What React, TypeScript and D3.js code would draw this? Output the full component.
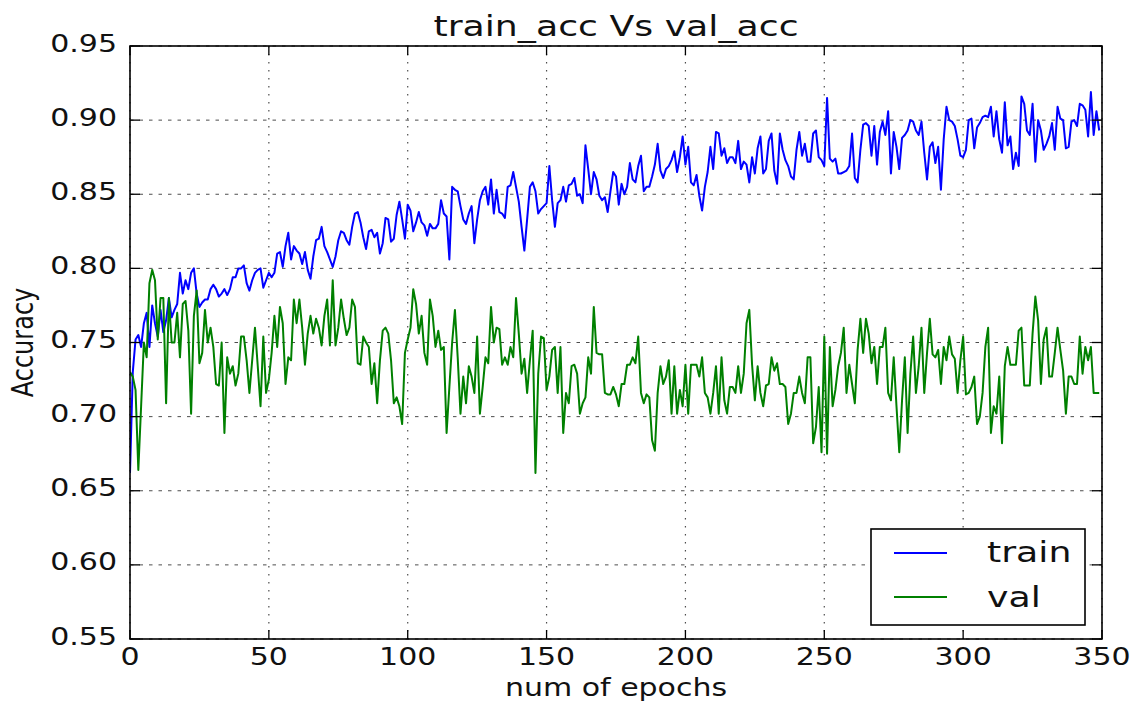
import { useEffect } from "react";
import * as d3 from "d3";

// accuracy per epoch
const trainAcc = [
  0.662, 0.730, 0.752, 0.755, 0.747, 0.763, 0.770, 0.747, 0.775, 0.763,
  0.754, 0.772, 0.757, 0.765, 0.780, 0.767, 0.772, 0.776, 0.797, 0.783,
  0.792, 0.786, 0.797, 0.800, 0.783, 0.774, 0.777, 0.779, 0.779, 0.786,
  0.789, 0.786, 0.781, 0.783, 0.786, 0.782, 0.786, 0.794, 0.794, 0.800,
  0.800, 0.802, 0.790, 0.785, 0.792, 0.797, 0.799, 0.800, 0.787, 0.792,
  0.797, 0.794, 0.797, 0.810, 0.811, 0.801, 0.815, 0.824, 0.806, 0.815,
  0.812, 0.810, 0.803, 0.811, 0.799, 0.793, 0.808, 0.819, 0.820, 0.828,
  0.815, 0.811, 0.806, 0.801, 0.808, 0.819, 0.825, 0.824, 0.819, 0.816,
  0.828, 0.837, 0.838, 0.831, 0.821, 0.813, 0.825, 0.826, 0.821, 0.824,
  0.810, 0.817, 0.834, 0.833, 0.818, 0.820, 0.836, 0.845, 0.833, 0.820,
  0.843, 0.839, 0.825, 0.831, 0.838, 0.831, 0.829, 0.822, 0.830, 0.827,
  0.827, 0.830, 0.846, 0.837, 0.835, 0.806, 0.855, 0.853, 0.852, 0.842,
  0.833, 0.830, 0.837, 0.842, 0.817, 0.833, 0.846, 0.852, 0.855, 0.843,
  0.860, 0.837, 0.853, 0.838, 0.837, 0.834, 0.855, 0.856, 0.865, 0.855,
  0.845, 0.828, 0.812, 0.833, 0.855, 0.858, 0.852, 0.837, 0.840, 0.842,
  0.844, 0.869, 0.846, 0.828, 0.844, 0.846, 0.855, 0.845, 0.856, 0.857,
  0.861, 0.849, 0.850, 0.844, 0.883, 0.867, 0.850, 0.865, 0.860, 0.849,
  0.846, 0.848, 0.838, 0.852, 0.865, 0.862, 0.843, 0.857, 0.850, 0.855,
  0.871, 0.860, 0.858, 0.869, 0.876, 0.852, 0.855, 0.855, 0.862, 0.870,
  0.884, 0.866, 0.861, 0.867, 0.869, 0.873, 0.879, 0.865, 0.875, 0.889,
  0.870, 0.882, 0.858, 0.856, 0.863, 0.849, 0.839, 0.855, 0.865, 0.882,
  0.867, 0.892, 0.891, 0.876, 0.881, 0.871, 0.875, 0.875, 0.871, 0.886,
  0.867, 0.872, 0.870, 0.858, 0.875, 0.864, 0.881, 0.889, 0.864, 0.867,
  0.886, 0.891, 0.866, 0.857, 0.891, 0.880, 0.873, 0.869, 0.862, 0.860,
  0.880, 0.892, 0.876, 0.884, 0.872, 0.872, 0.891, 0.893, 0.875, 0.873,
  0.869, 0.915, 0.874, 0.872, 0.874, 0.864, 0.864, 0.865, 0.866, 0.869,
  0.891, 0.861, 0.858, 0.880, 0.897, 0.898, 0.896, 0.876, 0.896, 0.870,
  0.892, 0.899, 0.890, 0.906, 0.864, 0.892, 0.882, 0.867, 0.888, 0.890,
  0.893, 0.900, 0.899, 0.893, 0.890, 0.899, 0.878, 0.860, 0.882, 0.885,
  0.871, 0.882, 0.853, 0.887, 0.909, 0.900, 0.899, 0.896, 0.887, 0.876,
  0.875, 0.880, 0.900, 0.901, 0.881, 0.895, 0.898, 0.902, 0.903, 0.902,
  0.909, 0.889, 0.906, 0.887, 0.878, 0.912, 0.883, 0.889, 0.867, 0.878,
  0.869, 0.916, 0.911, 0.893, 0.890, 0.911, 0.872, 0.900, 0.893, 0.880,
  0.884, 0.889, 0.898, 0.880, 0.909, 0.901, 0.900, 0.881, 0.882, 0.899,
  0.900, 0.896, 0.911, 0.910, 0.907, 0.889, 0.919, 0.890, 0.906, 0.893,
];

const valAcc = [
  0.730, 0.727, 0.718, 0.664, 0.707, 0.750, 0.740, 0.790, 0.799, 0.792,
  0.752, 0.780, 0.780, 0.709, 0.780, 0.750, 0.750, 0.770, 0.740, 0.776,
  0.778, 0.758, 0.702, 0.768, 0.785, 0.736, 0.743, 0.772, 0.750, 0.760,
  0.747, 0.722, 0.721, 0.750, 0.689, 0.740, 0.729, 0.734, 0.721, 0.729,
  0.754, 0.754, 0.738, 0.716, 0.738, 0.760, 0.734, 0.707, 0.754, 0.716,
  0.725, 0.743, 0.768, 0.747, 0.774, 0.763, 0.722, 0.740, 0.738, 0.779,
  0.763, 0.779, 0.760, 0.735, 0.756, 0.768, 0.756, 0.766, 0.760, 0.748,
  0.768, 0.779, 0.748, 0.792, 0.748, 0.760, 0.779, 0.766, 0.755, 0.760,
  0.779, 0.774, 0.736, 0.735, 0.754, 0.750, 0.747, 0.722, 0.736, 0.709,
  0.738, 0.758, 0.760, 0.756, 0.738, 0.709, 0.713, 0.707, 0.695, 0.743,
  0.752, 0.760, 0.786, 0.776, 0.756, 0.768, 0.743, 0.735, 0.779, 0.768,
  0.747, 0.758, 0.745, 0.747, 0.689, 0.720, 0.750, 0.772, 0.740, 0.702,
  0.727, 0.709, 0.734, 0.727, 0.716, 0.754, 0.702, 0.720, 0.740, 0.736,
  0.774, 0.750, 0.760, 0.759, 0.735, 0.740, 0.735, 0.747, 0.740, 0.780,
  0.756, 0.729, 0.739, 0.716, 0.738, 0.758, 0.662, 0.729, 0.754, 0.753,
  0.718, 0.727, 0.745, 0.747, 0.716, 0.747, 0.689, 0.716, 0.709, 0.734,
  0.735, 0.729, 0.702, 0.709, 0.713, 0.740, 0.729, 0.774, 0.743, 0.742,
  0.742, 0.716, 0.715, 0.715, 0.720, 0.715, 0.707, 0.722, 0.722, 0.735,
  0.735, 0.740, 0.736, 0.754, 0.716, 0.709, 0.715, 0.713, 0.684, 0.677,
  0.716, 0.734, 0.722, 0.727, 0.738, 0.702, 0.734, 0.702, 0.718, 0.707,
  0.735, 0.702, 0.735, 0.735, 0.735, 0.727, 0.740, 0.716, 0.713, 0.702,
  0.716, 0.734, 0.702, 0.740, 0.711, 0.702, 0.720, 0.720, 0.716, 0.734,
  0.716, 0.729, 0.763, 0.772, 0.735, 0.711, 0.734, 0.716, 0.707, 0.721,
  0.722, 0.740, 0.731, 0.736, 0.722, 0.722, 0.720, 0.695, 0.702, 0.716,
  0.716, 0.727, 0.716, 0.709, 0.740, 0.740, 0.682, 0.693, 0.720, 0.676,
  0.754, 0.675, 0.747, 0.707, 0.718, 0.734, 0.743, 0.760, 0.716, 0.735,
  0.722, 0.709, 0.745, 0.766, 0.743, 0.766, 0.756, 0.736, 0.747, 0.722,
  0.747, 0.747, 0.760, 0.716, 0.711, 0.740, 0.707, 0.676, 0.711, 0.740,
  0.689, 0.729, 0.754, 0.716, 0.734, 0.760, 0.716, 0.743, 0.766, 0.742,
  0.740, 0.745, 0.722, 0.747, 0.738, 0.754, 0.742, 0.739, 0.716, 0.738,
  0.754, 0.715, 0.716, 0.720, 0.727, 0.695, 0.700, 0.716, 0.747, 0.760,
  0.689, 0.707, 0.702, 0.727, 0.682, 0.734, 0.747, 0.735, 0.735, 0.735,
  0.758, 0.760, 0.721, 0.721, 0.721, 0.756, 0.781, 0.765, 0.722, 0.752,
  0.760, 0.727, 0.727, 0.743, 0.760, 0.745, 0.731, 0.702, 0.727, 0.727,
  0.722, 0.722, 0.754, 0.729, 0.747, 0.738, 0.747, 0.716, 0.716, 0.716,
];

const xTicks = [0, 50, 100, 150, 200, 250, 300, 350];
const yTicks = [0.55, 0.6, 0.65, 0.7, 0.75, 0.8, 0.85, 0.9, 0.95];
const seriesNames = ["train", "val"];
const seriesColors = ["#0000ff", "#008000"];

const W = 1138;
const H = 704;
const plot = { left: 130, right: 1102, top: 46, bottom: 639 };
// the reference is stretched sideways, so text gets the same stretch
const SX = 1.25;
const FONT = "DejaVu Sans, sans-serif";

function SText(props: { x: number; y: number; size: number; anchor?: string; rotate?: boolean; children: any }) {
  const { x, y, size, anchor = "start", rotate = false, children } = props;
  return (
    <text
      transform={`translate(${x},${y}) scale(${SX},1)${rotate ? " rotate(-90)" : ""}`}
      fontSize={size}
      fontFamily={FONT}
      textAnchor={anchor}
      fill="#111"
    >
      {children}
    </text>
  );
}

export default function App() {
  useEffect(() => {
    document.body.style.margin = "0";
  }, []);

  const x = d3.scaleLinear().domain([0, 350]).range([plot.left, plot.right]);
  const y = d3.scaleLinear().domain([0.55, 0.95]).range([plot.bottom, plot.top]);

  const line = d3
    .line<number>()
    .x((_, i) => x(i))
    .y((d) => y(d));

  const series = [trainAcc, valAcc];

  return (
    <svg width={W} height={H} style={{ display: "block", background: "#fff" }}>
      <defs>
        <clipPath id="plotClip">
          <rect x={plot.left} y={plot.top} width={plot.right - plot.left} height={plot.bottom - plot.top} />
        </clipPath>
      </defs>

      {/* grid */}
      {yTicks.map((t) => (
        <line key={"gy" + t} x1={plot.left} x2={plot.right} y1={y(t)} y2={y(t)}
          stroke="#000" strokeOpacity={0.7} strokeWidth={1} strokeDasharray="3.5,6" />
      ))}
      {xTicks.map((t) => (
        <line key={"gx" + t} x1={x(t)} x2={x(t)} y1={plot.top} y2={plot.bottom}
          stroke="#000" strokeOpacity={0.7} strokeWidth={1.2} strokeDasharray="1.5,6.5" />
      ))}

      {/* lines */}
      <g clipPath="url(#plotClip)">
        {series.map((s, i) => (
          <path key={seriesNames[i]} d={line(s) || ""} fill="none" stroke={seriesColors[i]} strokeWidth={2} strokeLinejoin="round" />
        ))}
      </g>

      {/* ticks, inside on all four sides */}
      {xTicks.map((t) => (
        <g key={"tx" + t} stroke="#000" strokeWidth={1.3}>
          <line x1={x(t)} x2={x(t)} y1={plot.bottom} y2={plot.bottom - 9} />
          <line x1={x(t)} x2={x(t)} y1={plot.top} y2={plot.top + 9} />
        </g>
      ))}
      {yTicks.map((t) => (
        <g key={"ty" + t} stroke="#000" strokeWidth={1.3}>
          <line x1={plot.left} x2={plot.left + 10} y1={y(t)} y2={y(t)} />
          <line x1={plot.right} x2={plot.right - 10} y1={y(t)} y2={y(t)} />
        </g>
      ))}

      {/* frame */}
      <rect x={plot.left} y={plot.top} width={plot.right - plot.left} height={plot.bottom - plot.top}
        fill="none" stroke="#000" strokeWidth={1.6} />

      {/* tick labels */}
      {xTicks.map((t) => (
        <SText key={"lx" + t} x={x(t)} y={665} size={24} anchor="middle">{String(t)}</SText>
      ))}
      {yTicks.map((t) => (
        <SText key={"ly" + t} x={117} y={y(t) + 5.5} size={24} anchor="end">{t.toFixed(2)}</SText>
      ))}

      {/* title and axis labels */}
      <SText x={(plot.left + plot.right) / 2} y={36} size={29} anchor="middle">train_acc Vs val_acc</SText>
      <SText x={(plot.left + plot.right) / 2} y={696} size={24} anchor="middle">num of epochs</SText>
      <SText x={33} y={(plot.top + plot.bottom) / 2} size={24} anchor="middle" rotate>Accuracy</SText>

      {/* legend */}
      <rect x={871} y={529} width={214} height={96} fill="#fff" stroke="#000" strokeWidth={1.6} />
      {seriesNames.map((n, i) => (
        <g key={"lg" + n}>
          <line x1={894} x2={947} y1={553 + i * 44} y2={553 + i * 44} stroke={seriesColors[i]} strokeWidth={2} />
          <SText x={987} y={562 + i * 45} size={29}>{n}</SText>
        </g>
      ))}
    </svg>
  );
}
